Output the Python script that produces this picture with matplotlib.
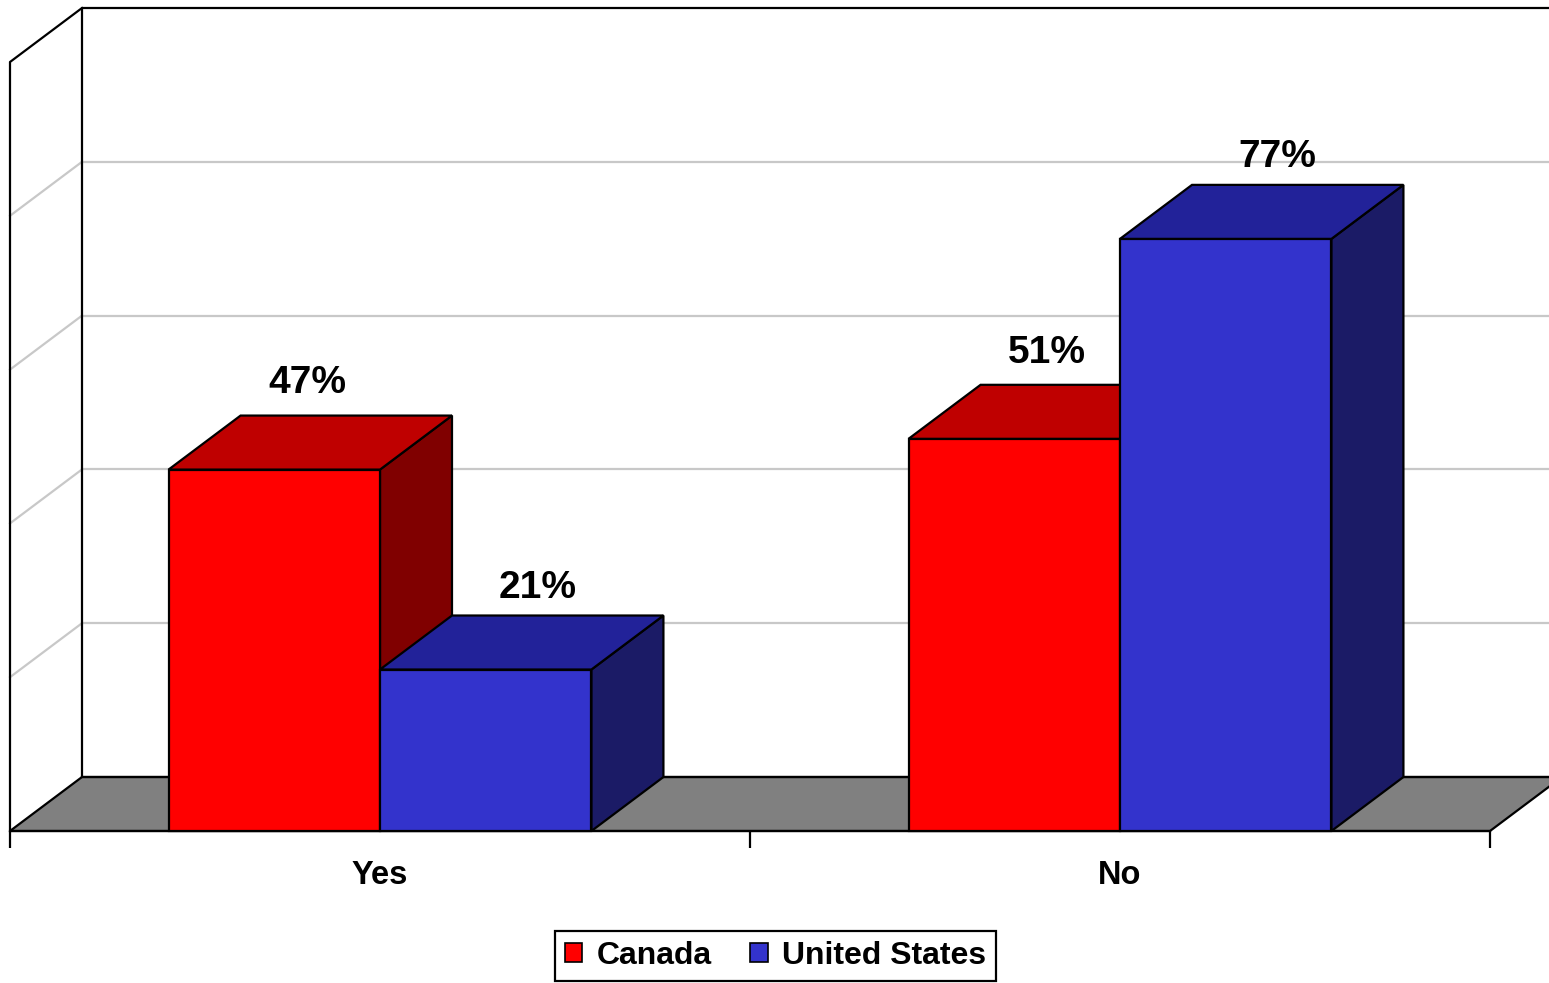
import matplotlib
matplotlib.use("Agg")
import matplotlib.pyplot as plt
from matplotlib.patches import Polygon, Patch

# data
categories = ["Yes", "No"]
series_names = ["Canada", "United States"]
canada = [47, 51]
united_states = [21, 77]
gridlines = [20, 40, 60, 80]

# styling
front_colors = ["#FF0000", "#3333CC"]
top_colors = ["#BF0000", "#222299"]
side_colors = ["#800000", "#1B1B66"]
bar_w = 1 / 3.5          # Excel gap width 150%
dx = 72 / 740            # depth offset in category units
dy = 54 / 769 * 100      # depth offset in percent units
label_shift_x = [-3 / 740, 16 / 740]   # per-series label nudge
label_shift_y = [4.2, 3.6]

plt.rcParams['font.family'] = ['Liberation Sans', 'DejaVu Sans']

fig = plt.figure(figsize=(15.49, 9.83), dpi=100)
ax = fig.add_axes([10 / 1549, 152 / 983, 1480 / 1549, 769 / 983])
ax.set_xlim(0, 2)
ax.set_ylim(0, 100)

# back wall gridlines and left wall diagonals
for g in gridlines:
    ax.plot([dx, 2.2], [g + dy, g + dy], color="#C8C8C8", lw=1.6, clip_on=False, zorder=1)
    ax.plot([0, dx], [g, g + dy], color="#C8C8C8", lw=1.6, clip_on=False, zorder=1)

# walls outline
ax.plot([dx, dx, 2.2], [dy, 100 + dy, 100 + dy], color="black", lw=1.6, clip_on=False, zorder=2)
ax.plot([0, 0, dx], [0, 100, 100 + dy], color="black", lw=1.6, clip_on=False, zorder=2)

# floor
floor = Polygon([(0, 0), (2, 0), (2 + dx, dy), (dx, dy)], closed=True,
                facecolor="#808080", edgecolor="black", lw=1.6, clip_on=False, zorder=2)
ax.add_patch(floor)
ax.plot([dx, 2.2], [dy, dy], color="black", lw=1.6, clip_on=False, zorder=2)

# bars, drawn left to right
z = 3
for i, cat in enumerate(categories):
    for j, vals in enumerate([canada, united_states]):
        v = vals[i]
        x0 = i + 0.5 - bar_w + j * bar_w
        x1 = x0 + bar_w
        front = Polygon([(x0, 0), (x1, 0), (x1, v), (x0, v)],
                        facecolor=front_colors[j], edgecolor="black", lw=1.6, zorder=z, clip_on=False)
        top = Polygon([(x0, v), (x1, v), (x1 + dx, v + dy), (x0 + dx, v + dy)],
                      facecolor=top_colors[j], edgecolor="black", lw=1.6, zorder=z, clip_on=False)
        side = Polygon([(x1, 0), (x1 + dx, dy), (x1 + dx, v + dy), (x1, v)],
                       facecolor=side_colors[j], edgecolor="black", lw=1.6, zorder=z, clip_on=False)
        for p in (side, front, top):
            ax.add_patch(p)
        z += 1
        ax.text((x0 + x1) / 2 + dx / 2 + label_shift_x[j], v + dy + label_shift_y[j], f"{v}%",
                ha="center", va="center", fontsize=28, fontweight="bold", zorder=10)

# axis: front edge with ticks
for s in ["left", "right", "top"]:
    ax.spines[s].set_visible(False)
ax.spines["bottom"].set_linewidth(1.6)
ax.spines["bottom"].set_zorder(2)
ax.set_yticks([])
ax.set_xticks([0, 1, 2])
ax.set_xticklabels([])
ax.tick_params(axis="x", which="major", length=12, width=1.6, direction="out")
ax.set_xticks([0.5, 1.5], minor=True)
ax.set_xticklabels(categories, minor=True, fontsize=23.5, fontweight="bold")
ax.tick_params(axis="x", which="minor", length=0, pad=21)

handles = [Patch(facecolor=front_colors[k], edgecolor="black", lw=1.2) for k in range(2)]
leg = fig.legend(handles, series_names, loc="center", bbox_to_anchor=(775.5 / 1549, 1 - 956 / 983),
                 ncol=2, fancybox=False, edgecolor="black", framealpha=1,
                 prop={"size": 23, "weight": "bold"}, handlelength=0.55, handleheight=0.55,
                 handletextpad=0.45, columnspacing=1.2, borderpad=0.3, borderaxespad=0)
leg.get_frame().set_linewidth(1.6)

fig.savefig("out.png", dpi=100)
